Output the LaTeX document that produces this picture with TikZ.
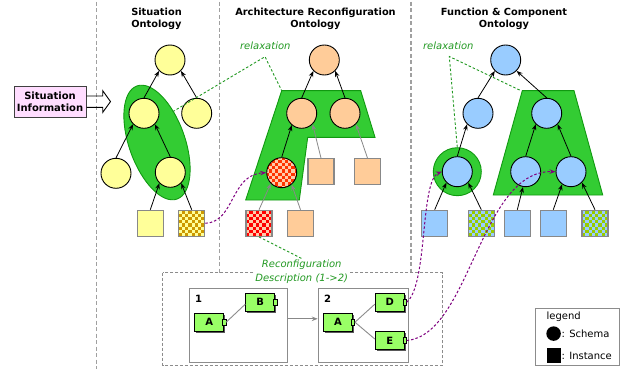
\documentclass[tikz,border=0pt]{standalone}
\usepackage{fontspec}
\setmainfont{DejaVu Sans}
\usetikzlibrary{shapes.geometric,arrows.meta,shadows}

\definecolor{yel}{HTML}{FFFF99}
\definecolor{ora}{HTML}{FFCC99}
\definecolor{blu}{HTML}{99CCFF}
\definecolor{greg}{HTML}{33CC33}
\definecolor{gborder}{HTML}{119911}
\definecolor{rgreen}{HTML}{229922}
\definecolor{sqgray}{HTML}{888888}
\definecolor{arrgray}{HTML}{888888}
\definecolor{divgray}{HTML}{A0A0A0}
\definecolor{pgray}{HTML}{8C8C8C}
\definecolor{purp}{HTML}{800080}
\definecolor{cgreen}{HTML}{99FF66}
\definecolor{pinkbox}{HTML}{FFDDFF}
\definecolor{gold}{HTML}{CC9900}
\definecolor{chkred}{HTML}{FF0000}
\definecolor{chkpeach}{HTML}{FFCCAA}
\definecolor{chkorred}{HTML}{FF3300}
\definecolor{chklime}{HTML}{99CC00}

% checkerboard of n x n cells (3.25 units each) centred at (x,y)
\newcommand{\chk}[5]{%
  \pgfmathsetmacro\chkx{#1-#3*1.625}%
  \pgfmathsetmacro\chky{#2-#3*1.625}%
  \fill[#4] (\chkx,\chky) rectangle ++(#3*3.25,#3*3.25);
  \foreach \i in {1,...,#3}{\foreach \j in {1,...,#3}{%
    \pgfmathtruncatemacro\chkodd{mod(\i+\j,2)}%
    \ifnum\chkodd=1
      \fill[#5] (\chkx+\i*3.25-3.25,\chky+\j*3.25-3.25) rectangle ++(3.25,3.25);
    \fi}}%
}

\begin{document}
\begin{tikzpicture}[x=1pt,y=-1pt,
  ttl/.style={font=\fontsize{9.8}{11.7}\selectfont\bfseries, align=center, inner sep=0},
  relaxlbl/.style={font=\fontsize{10}{12}\selectfont\itshape, text=rgreen, inner sep=0},
  sch/.style={circle, draw=black, line width=0.9, minimum size=30, inner sep=0},
  ins/.style={rectangle, draw=sqgray, line width=1.2, minimum size=26, inner sep=0},
  arr/.style={-{Stealth[length=6pt,width=4.5pt]}, line width=0.8},
  garr/.style={arr, draw=arrgray},
  region/.style={fill=greg, draw=gborder, line width=0.9},
  relax/.style={draw=rgreen, line width=0.9, dash pattern=on 2.5pt off 2pt},
  divider/.style={draw=divgray, line width=1.2, dash pattern=on 4pt off 2.5pt},
  link/.style={draw=purp, line width=1, dash pattern=on 2.5pt off 2pt, -{Stealth[length=6pt,width=4.5pt]}},
  comp/.style={rectangle, draw=black, line width=0.8, fill=cgreen, minimum width=29, minimum height=17.5, inner sep=0,
    font=\fontsize{10}{12}\selectfont\bfseries,
    drop shadow={shadow xshift=1.6pt, shadow yshift=-1.6pt, fill=black!65, opacity=1}},
  port/.style={rectangle, draw=black, line width=0.6, fill=cgreen, minimum width=3.5, minimum height=6.5, inner sep=0},
  panel/.style={rectangle, draw=pgray, line width=1.1, inner sep=0},
  txt/.style={font=\fontsize{10}{12}\selectfont, inner sep=0}]

\fill[white] (0,0) rectangle (624,369);
\useasboundingbox (0,0) rectangle (624,369);

% column separators
\draw[divider] (96.5,2) -- (96.5,369);
\draw[divider] (219.5,2) -- (219.5,272.7);
\draw[divider] (411,2) -- (411,272.7);

% titles
\node[ttl] (t1) at (156.5,19) {Situation\\Ontology};
\node[ttl] (t2) at (315.5,19) {Architecture Reconfiguration\\Ontology};
\node[ttl] (t3) at (504,19) {Function \& Component\\Ontology};

% situation information input
\node[rectangle, draw=black!75, line width=1, fill=pinkbox, minimum width=72, minimum height=31, inner sep=0,
  font=\fontsize{10}{11.5}\selectfont\bfseries, align=center] (sinfo) at (50,101.7) {Situation\\Information};
\draw[line width=0.9] (sinfo.east |- 0,96) -- (102.7,96) -- (102.7,90.7) -- (110.5,101.6)
  -- (102.7,112.4) -- (102.7,107.3) -- (sinfo.east |- 0,107.3);

% green groupings
\node[ellipse, region, minimum width=56, minimum height=120, inner sep=0, rotate=19.5] (sgroup) at (157,142.5) {};
\filldraw[region] (281.7,90.7) -- (360.7,90.7) -- (375,137.3) -- (307.7,137.3) -- (299.3,200) -- (245.7,200) -- cycle;
\filldraw[region] (522.3,90.7) -- (574,90.7) -- (602.7,195) -- (493.3,195) -- cycle;
\node[circle, region, minimum size=48, inner sep=0] (fring) at (457.3,171.7) {};

% situation ontology
\node[sch, fill=yel] (stop) at (170,60) {};
\node[sch, fill=yel] (sml) at (144,113.3) {};
\node[sch, fill=yel] (smr) at (196.7,113.3) {};
\node[sch, fill=yel] (sbl) at (116,173.3) {};
\node[sch, fill=yel] (sbr) at (170.3,172.3) {};
\node[ins, fill=yel] (ssq1) at (150.3,223.3) {};
\chk{191.7}{223.3}{8}{yel}{gold}
\node[ins] (ssq2) at (191.7,223.3) {};

\draw[arr] (sml.north) -- (stop.-135);
\draw[arr] (smr.north) -- (stop.-45);
\draw[arr] (sbl.north) -- (sml.-135);
\draw[arr] (sbr.north) -- (sml.-45);
\draw[arr] (ssq1.north) -- (sbr.-135);
\draw[arr] (ssq2.north) -- (sbr.-45);

% architecture reconfiguration ontology
\node[sch, fill=ora] (atop) at (324.3,60) {};
\node[sch, fill=ora] (aml) at (301.7,113.3) {};
\node[sch, fill=ora] (amr) at (345,113.3) {};
\begin{scope}
  \clip (281.7,172.7) circle (15);
  \chk{281.7}{172.7}{10}{chkpeach}{chkorred}
\end{scope}
\node[sch] (achk) at (281.7,172.7) {};
\node[ins, fill=ora] (asq1) at (321,171.7) {};
\node[ins, fill=ora] (asq2) at (367.5,171.7) {};
\chk{259}{223.3}{8}{chkpeach}{chkred}
\node[ins] (ared) at (259,223.3) {};
\node[ins, fill=ora] (asq3) at (300.5,223.3) {};

\draw[arr] (aml.north) -- (atop.-135);
\draw[arr] (amr.north) -- (atop.-45);
\draw[arr] (achk.north) -- (aml.-130);
\draw[garr] (asq1.north) -- (aml.-45);
\draw[garr] (asq2.north) -- (amr.-45);
\draw[garr] (ared.north) -- (achk.-135);
\draw[garr] (asq3.north) -- (achk.-50);

% function & component ontology
\node[sch, fill=blu] (ftop) at (505.7,60) {};
\node[sch, fill=blu] (fml) at (478,113.3) {};
\node[sch, fill=blu] (fmr) at (546.7,113.3) {};
\node[sch, fill=blu] (fbl) at (457.3,171.7) {};
\node[sch, fill=blu] (fbm) at (525.7,171.7) {};
\node[sch, fill=blu] (fbr) at (571,171.7) {};
\node[ins, fill=blu] (fsq1) at (434.7,223.3) {};
\chk{481.3}{223.3}{8}{blu}{chklime}
\node[ins] (fsq2) at (481.3,223.3) {};
\node[ins, fill=blu] (fsq3) at (517.3,223.3) {};
\node[ins, fill=blu] (fsq4) at (553.3,223.3) {};
\chk{595}{223.3}{8}{blu}{chklime}
\node[ins] (fsq5) at (595,223.3) {};

\draw[arr] (fml.north) -- (ftop.-135);
\draw[arr] (fmr.north) -- (ftop.-45);
\draw[arr] (fbl.north) -- (fml.-135);
\draw[arr] (fbm.north) -- (fmr.-135);
\draw[arr] (fbr.north) -- (fmr.-45);
\draw[arr] (fsq1.north) -- (fbl.-135);
\draw[arr] (fsq2.north) -- (fbl.-45);
\draw[arr] (fsq3.north) -- (fbm.-100);
\draw[arr] (fsq4.north) -- (fbr.-125);
\draw[arr] (fsq5.north) -- (fbr.-45);

% relaxation links
\node[relaxlbl] (rx1) at (265.3,46) {relaxation};
\coordinate (rv1) at (265,56.7);
\coordinate (rs1) at (172.7,111.7);
\coordinate (ra1) at (281.7,90.7);
\draw[relax] (rs1) -- (rv1) -- (ra1);
\node[relaxlbl] (rx2) at (448.3,46) {relaxation};
\coordinate (rv2) at (449.3,56.5);
\coordinate (rf2) at (521,90.7);
\draw[relax] (fring.north) -- (rv2) -- (rf2);

% reconfiguration description
\draw[draw=pgray, line width=0.8, dash pattern=on 3pt off 2pt] (162.7,272.7) rectangle (442.7,365.5);
\node[font=\fontsize{10}{13.3}\selectfont\itshape, text=rgreen, fill=white, align=center, inner sep=1.5] (rlabel)
  at (301.7,271.7) {Reconfiguration\\Description (1->2)};
\draw[relax] (ared.south) -- (rlabel.north);

\node[panel, minimum width=98.4, minimum height=74] (p1) at (238.5,325.3) {};
\node[panel, minimum width=90, minimum height=74] (p2) at (363.3,325.3) {};
\node[txt, font=\fontsize{10}{12}\selectfont\bfseries] (n1) at (198.5,299) {1};
\node[txt, font=\fontsize{10}{12}\selectfont\bfseries] (n2) at (327.7,299) {2};
\draw[garr, line width=1] ([yshift=6.5pt]p1.east) -- ([yshift=6.5pt]p2.west);

\node[comp] (A1) at (209.2,322.2) {A};
\node[comp] (B1) at (260.2,302.2) {B};
\node[comp] (A2) at (338,322.2) {A};
\node[comp] (D2) at (389.7,302.2) {D};
\node[comp] (E2) at (389.7,340.5) {E};
\node[port] (pA1) at (A1.east) {};
\node[port] (pB1) at (B1.east) {};
\node[port] (pA2) at (A2.east) {};
\node[port] (pD2) at (D2.east) {};
\node[port] (pE2) at (E2.east) {};
\draw[draw=pgray, line width=0.9] (pA1.east) -- ([yshift=-2pt]B1.west);
\draw[draw=pgray, line width=0.9] (pA2.east) -- ([yshift=-2pt]D2.west);
\draw[draw=pgray, line width=0.9] (pA2.east) -- ([yshift=1.5pt]E2.west);

% instance-to-schema links
\draw[link] (ssq2.east) .. controls (235,222) and (230,175) .. (achk.west);
\draw[link] (pD2.east) .. controls (428,285) and (420,180) .. (fbl.west);
\draw[link] (pE2.east) .. controls (470,335) and (480,170) .. (fbr.west);

% legend
\node[rectangle, draw=black!45, line width=0.9, minimum width=83.3, minimum height=56.7, inner sep=0] (legend) at (577.3,336.6) {};
\node[txt, anchor=west] (lgt) at (546.5,317) {legend};
\node[circle, fill=black, minimum size=14.5, inner sep=0] (lcirc) at (553.6,333.6) {};
\node[txt, anchor=west] (lsch) at (561.5,333.6) {: Schema};
\node[rectangle, fill=black, minimum width=14, minimum height=15, inner sep=0] (lsq) at (553.7,355.8) {};
\node[txt, anchor=west] (lins) at (561.5,356) {: Instance};

\end{tikzpicture}
\end{document}
